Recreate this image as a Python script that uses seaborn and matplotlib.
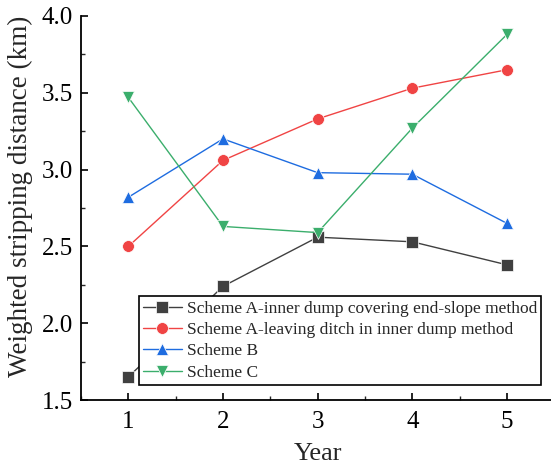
import matplotlib
matplotlib.use("Agg")
import matplotlib.pyplot as plt
import seaborn as sns
import pandas as pd
from matplotlib.ticker import MultipleLocator

years = [1, 2, 3, 4, 5]
series_names = [
    "Scheme A-inner dump covering end-slope method",
    "Scheme A-leaving ditch in inner dump method",
    "Scheme B",
    "Scheme C",
]
scheme_a_cover = [1.65, 2.24, 2.56, 2.53, 2.38]
scheme_a_ditch = [2.50, 3.06, 3.33, 3.53, 3.65]
scheme_b = [2.82, 3.20, 2.98, 2.97, 2.65]
scheme_c = [3.47, 2.63, 2.59, 3.27, 3.88]

colors = ["#404040", "#F04444", "#1E6CE0", "#3BAE6C"]
markers = ["s", "o", "^", "v"]

rows = []
for name, vals in zip(series_names, [scheme_a_cover, scheme_a_ditch, scheme_b, scheme_c]):
    for x, v in zip(years, vals):
        rows.append({"Year": x, "Value": v, "Series": name})
df = pd.DataFrame(rows)

sns.set_style("ticks")
plt.rcParams["font.family"] = ["Liberation Serif", "DejaVu Serif"]

fig = plt.figure(figsize=(5.51, 4.66), dpi=100)
ax = fig.add_axes([0.147, 0.1416, 0.859, 0.8241])

sns.lineplot(data=df, x="Year", y="Value", hue="Series", style="Series",
             palette=colors, markers=markers, dashes=False, markersize=8.5,
             linewidth=1.0, markeredgewidth=0.5, ax=ax)

ax.set_xlim(0.5, 5.5)
ax.set_ylim(1.5, 4.0)
ax.xaxis.set_major_locator(MultipleLocator(1))
ax.xaxis.set_minor_locator(MultipleLocator(0.5))
ax.yaxis.set_minor_locator(MultipleLocator(0.25))
ax.set_yticks([1.5, 2.0, 2.5, 3.0, 3.5, 4.0])
ax.set_yticklabels(["1.5", "2.0", "2.5", "3.0", "3.5", "4.0"])
ax.tick_params(axis="both", which="major", direction="in", length=5, width=1.2,
               labelsize=18, colors="black", pad=6)
ax.tick_params(axis="x", which="major", pad=8)
ax.tick_params(axis="both", which="minor", direction="in", length=3, width=1.0)
for s in ["top", "right"]:
    ax.spines[s].set_visible(False)
for s in ["left", "bottom"]:
    ax.spines[s].set_linewidth(1.3)
    ax.spines[s].set_color("black")

ax.set_xlabel("Year", fontsize=19, labelpad=7)
ax.set_ylabel("Weighted stripping distance (km)", fontsize=19.5)
ax.yaxis.set_label_coords(-0.101, 0.53)

leg = ax.legend(loc="lower left", bbox_to_anchor=(0.1225, 0.039), borderaxespad=0,
                fontsize=12.5, frameon=True, fancybox=False, framealpha=1,
                edgecolor="black", handlelength=2.2, handletextpad=0.3,
                labelspacing=0.3, borderpad=0.25)
leg.get_frame().set_linewidth(1.2)

fig.savefig("out.png", dpi=100)
